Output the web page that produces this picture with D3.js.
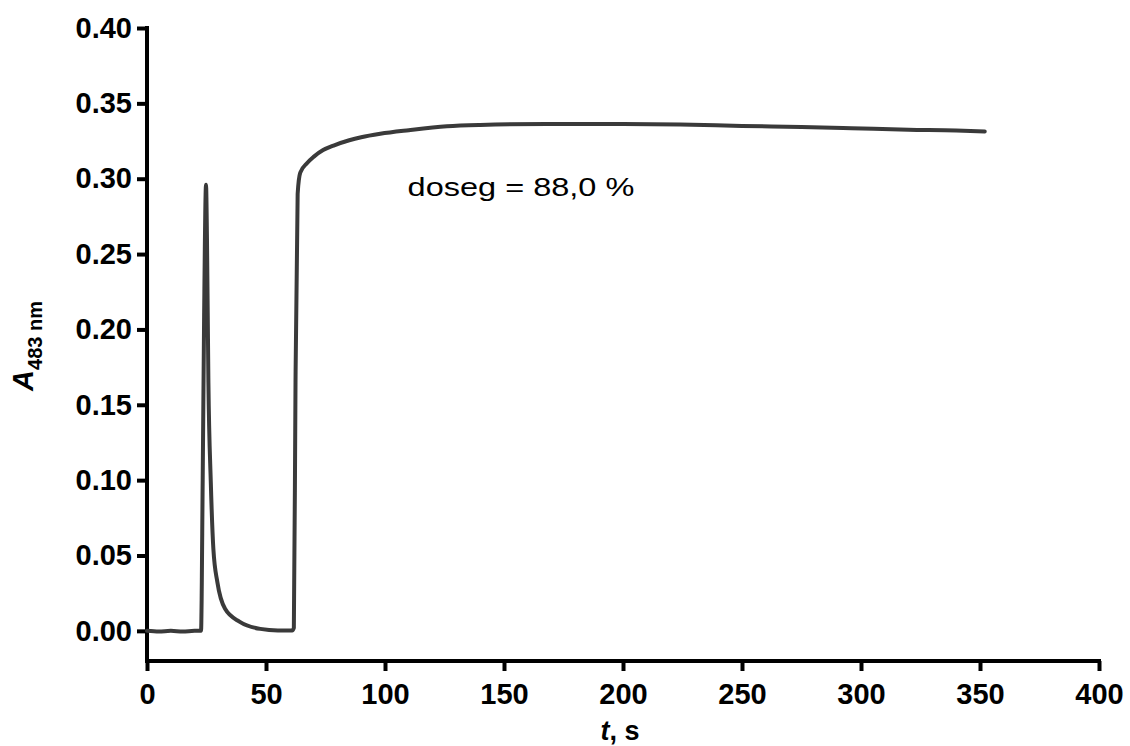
<!DOCTYPE html>
<html>
<head>
<meta charset="utf-8">
<script src="https://cdn.jsdelivr.net/npm/d3@7"></script>
<style>
  html, body { margin: 0; padding: 0; background: #ffffff; }
  svg { display: block; }
</style>
</head>
<body>
<div id="chart"></div>
<script>
// ---- data ----
const timeS = [0, 5, 10, 15, 20, 22.7, 23.4, 24.0, 24.8, 25.2, 25.8, 26.8, 27.9, 29.6, 32.8, 39, 47.6, 55, 61, 61.7, 62.4, 63.3, 64.4, 67.3, 70, 74, 78.4, 85, 90, 98, 110, 126, 140, 168, 200, 224, 250, 275, 296, 320, 340, 352];
const absorbance = [0.000, -0.0005, 0.000, -0.0005, 0.000, 0.000, 0.10, 0.209, 0.296, 0.26, 0.165, 0.099, 0.054, 0.032, 0.0146, 0.006, 0.0013, 0.0003, 0.0003, 0.002, 0.165, 0.29, 0.304, 0.3104, 0.3145, 0.319, 0.322, 0.3255, 0.3275, 0.3298, 0.3322, 0.3348, 0.3357, 0.3363, 0.3363, 0.336, 0.335, 0.3343, 0.3335, 0.3325, 0.332, 0.3313];
const xTicks = [0, 50, 100, 150, 200, 250, 300, 350, 400];
const yTicks = [0.00, 0.05, 0.10, 0.15, 0.20, 0.25, 0.30, 0.35, 0.40];
const annotationText = "doseg = 88,0 %";
const annotationAt = [109.5, 0.2883];

const W = 1130, H = 746;
const mLeft = 147, mRight = 1099, mTop = 28, mBottom = 661;

const svg = d3.select("#chart").append("svg").attr("width", W).attr("height", H);

const x = d3.scaleLinear().domain([0, 400]).range([mLeft, mRight]);
const y = d3.scaleLinear().domain([-0.02, 0.40]).range([mBottom, mTop]);

const font = "'Liberation Sans', Arial, sans-serif";

// X axis
const gx = svg.append("g").attr("transform", `translate(0,${mBottom})`)
  .call(d3.axisBottom(x).tickValues(xTicks).tickFormat(d3.format("d")).tickSizeOuter(0).tickSize(10).tickPadding(12));
// Y axis
const gy = svg.append("g").attr("transform", `translate(${mLeft},0)`)
  .call(d3.axisLeft(y).tickValues(yTicks).tickFormat(d3.format(".2f")).tickSizeOuter(0).tickSize(10).tickPadding(5));

[gx, gy].forEach(g => {
  g.select(".domain").attr("stroke", "#000").attr("stroke-width", 4).attr("stroke-linecap", "square");
  g.selectAll(".tick line").attr("stroke", "#000").attr("stroke-width", 4);
  g.selectAll(".tick text").attr("fill", "#000").style("font-family", font)
    .style("font-weight", "bold").style("font-size", "29px");
});
gy.select(".domain").attr("d", `M0,${mTop}V${mBottom}`);
gx.select(".domain").attr("d", `M${mLeft},0H${mRight}`);

// Curve
const line = d3.line().curve(d3.curveMonotoneX)
  .x((d, i) => x(timeS[i])).y((d, i) => y(absorbance[i]));
svg.append("path").datum(absorbance)
  .attr("d", line)
  .attr("fill", "none")
  .attr("stroke", "#3a3a3a")
  .attr("stroke-width", 4)
  .attr("stroke-linejoin", "round")
  .attr("stroke-linecap", "round");

// Annotation (horizontally stretched like the reference)
svg.append("text")
  .attr("transform", `translate(${x(annotationAt[0])},${y(annotationAt[1])}) scale(1.3,1)`)
  .style("font-family", font).style("font-size", "25px").attr("fill", "#000")
  .text(annotationText);

// X axis title
const xt = svg.append("text")
  .attr("x", 620).attr("y", 740)
  .attr("text-anchor", "middle")
  .style("font-family", font).style("font-size", "27px").style("font-weight", "bold").attr("fill", "#000");
xt.append("tspan").style("font-style", "italic").text("t");
xt.append("tspan").text(", s");

// Y axis title
const yt = svg.append("text")
  .attr("transform", `translate(33,346) rotate(-90)`)
  .attr("text-anchor", "middle")
  .style("font-family", font).style("font-weight", "bold").attr("fill", "#000");
yt.append("tspan").style("font-style", "italic").style("font-size", "29px").text("A");
yt.append("tspan").attr("dy", 9).style("font-size", "20px").text("483 nm");
</script>
</body>
</html>
